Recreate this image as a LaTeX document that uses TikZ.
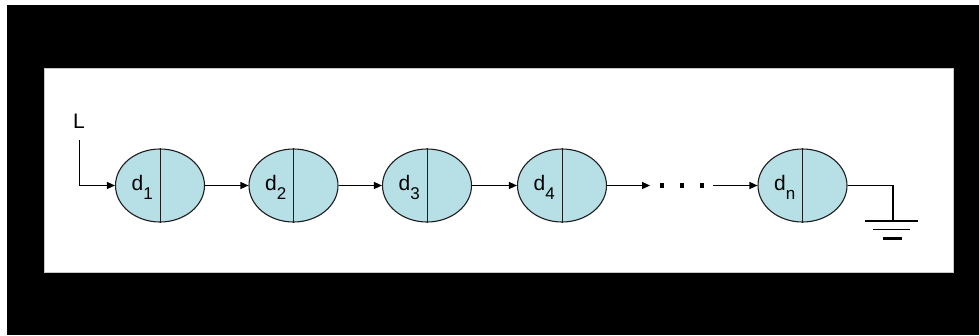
\documentclass[tikz,border=0pt]{standalone}
\usepackage{fontspec}
\setmainfont{Liberation Sans}
\usetikzlibrary{shapes.geometric,arrows.meta}
\definecolor{cellblue}{RGB}{183,223,230}
\definecolor{edge}{RGB}{30,30,30}
\newcommand{\cellname}[1]{\fontsize{21pt}{21pt}\selectfont d\raisebox{-9.5pt}{\fontsize{17pt}{17pt}\selectfont #1}}
\tikzset{
  cell/.style={ellipse,draw=edge,line width=1.1pt,fill=cellblue,minimum width=89pt,minimum height=73pt,inner sep=0pt},
  lbl/.style={inner sep=0pt,anchor=base west},
  conn/.style={draw=black,line width=1.2pt},
  arr/.style={conn,-{Triangle[length=8pt,width=7pt]}},
  dotmark/.style={fill=black,minimum size=4.5pt,inner sep=0pt,draw=none,rectangle}
}
\begin{document}
\begin{tikzpicture}[x=1pt,y=-1pt]
\useasboundingbox (0,0) rectangle (979,335);
\fill[white] (0,0) rectangle (979,335);
\fill[black] (7,5) rectangle (979,335);
\fill[white,draw={rgb,255:red,200;green,200;blue,200},line width=1pt] (44,68.5) rectangle (953,272.5);
% cells
\foreach \n/\x in {1/160,2/293.5,3/427,4/562,n/802.5}{
  \node[cell] (c\n) at (\x,185.5) {};
  \draw[edge,line width=1pt] (c\n.north) -- (c\n.south);
  \node[lbl] (t\n) at ([xshift=-28.5pt,yshift=-4.5pt]c\n.center) {\cellname{\n}};
}
% L
\node[lbl] (L) at (73,128) {\fontsize{21pt}{21pt}\selectfont L};
\coordinate (Ltop) at (79.5,140);
\coordinate (Lcorner) at (79.5,185.5);
\draw[arr] (Ltop) -- (Lcorner) -- (c1.west);
\draw[arr] (c1.east) -- (c2.west);
\draw[arr] (c2.east) -- (c3.west);
\draw[arr] (c3.east) -- (c4.west);
\coordinate (d1) at (650,185.5);
\draw[arr] (c4.east) -- (d1);
\node[dotmark] (p1) at (662,185.5) {};
\node[dotmark] (p2) at (682,185.5) {};
\node[dotmark] (p3) at (702,185.5) {};
\coordinate (d2) at (713,185.5);
\draw[arr] (d2) -- (cn.west);
% ground
\coordinate (g1) at (893,185.5);
\coordinate (g2) at (893,221);
\draw[conn] (cn.east) -- (g1) -- (g2);
\draw[line width=1.5pt] (865,221) -- (918,221);
\draw[line width=1.5pt] (873,229.5) -- (910,229.5);
\draw[line width=3pt] (883,238) -- (902,238);
\end{tikzpicture}
\end{document}
